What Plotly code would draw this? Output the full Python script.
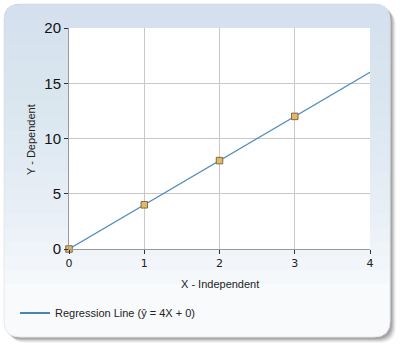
import plotly.graph_objects as go

# Data
x_points = [0, 1, 2, 3]
y_points = [0, 4, 8, 12]
line_x = [0, 4]
line_y = [0, 16]
x_ticks = [0, 1, 2, 3, 4]
y_ticks = [0, 5, 10, 15, 20]
legend_label = "Regression Line (ŷ = 4X + 0)"

W, H = 400, 350
L, R, T, B = 69, 30, 28, 101
PW, PH = W - L - R, H - T - B


def px(x):
    return (x - L) / PW


def py(y):
    return (H - B - y) / PH


def rrect(x0, y0, x1, y1, r, bottom_round=True):
    rx = r / PW
    ry = r / PH
    X0, X1 = px(x0), px(x1)
    Y0, Y1 = py(y0), py(y1)
    p = f"M {X0+rx},{Y0} L {X1-rx},{Y0} Q {X1},{Y0} {X1},{Y0-ry} "
    if bottom_round:
        p += f"L {X1},{Y1+ry} Q {X1},{Y1} {X1-rx},{Y1} L {X0+rx},{Y1} Q {X0},{Y1} {X0},{Y1+ry} "
    else:
        p += f"L {X1},{Y1} L {X0},{Y1} "
    p += f"L {X0},{Y0-ry} Q {X0},{Y0} {X0+rx},{Y0} Z"
    return p


shapes = []
# shadow
for off, op in [(6, 0.06), (5, 0.10), (4, 0.14), (3, 0.18), (2, 0.22)]:
    shapes.append(dict(type="path", xref="paper", yref="paper", layer="below",
                       path=rrect(4 + off, 4 + off, 390 + off, 337 + off, 16),
                       fillcolor=f"rgba(90,90,90,{op})", line=dict(width=0)))
# panel base
shapes.append(dict(type="path", xref="paper", yref="paper", layer="below",
                   path=rrect(4, 4, 390, 337, 16),
                   fillcolor="#f8fafc", line=dict(color="#e4e9f0", width=1)))
# gradient bands
n = 20
for k in range(1, n + 1):
    yb = 4 + k * (280 / n)
    shapes.append(dict(type="path", xref="paper", yref="paper", layer="below",
                       path=rrect(4, 4, 390, yb, 16, bottom_round=False),
                       fillcolor="rgba(200,215,235,0.06)", line=dict(width=0)))
# plot area white
shapes.append(dict(type="rect", xref="paper", yref="paper", layer="below",
                   x0=0, x1=1, y0=0, y1=1, fillcolor="white", line=dict(width=0)))

fig = go.Figure()
fig.add_trace(go.Scatter(x=line_x, y=line_y, mode="lines", name=legend_label,
                         legendgroup="reg", showlegend=False, cliponaxis=False,
                         line=dict(color="#4f8cc0", width=1.2)))
fig.add_trace(go.Scatter(x=[None], y=[None], mode="lines", name=legend_label,
                         legendgroup="reg", showlegend=True,
                         line=dict(color="#4a84b4", width=2.2)))
fig.add_trace(go.Scatter(x=x_points, y=y_points, mode="markers", showlegend=False,
                         cliponaxis=False,
                         marker=dict(symbol="square", size=6.5, color="#e8b860",
                                     line=dict(color="#7a6a50", width=1))))

fig.update_layout(
    width=W, height=H,
    margin=dict(l=L, r=R, t=T, b=B),
    paper_bgcolor="white",
    plot_bgcolor="white",
    shapes=shapes,
    font=dict(family="Liberation Sans, Arial", color="#222"),
    showlegend=True,
    legend=dict(orientation="h", x=px(15), y=py(313), yanchor="middle", xanchor="left",
                bgcolor="rgba(0,0,0,0)", font=dict(size=11, color="#222"),
                itemwidth=30),
    annotations=[
        dict(text="X - Independent", xref="paper", yref="paper", x=px(220), y=py(284),
             showarrow=False, font=dict(size=11, color="#222"), xanchor="center", yanchor="middle"),
        dict(text="Y - Dependent", xref="paper", yref="paper", x=px(31), y=py(140),
             showarrow=False, textangle=-90, font=dict(size=11, color="#222"),
             xanchor="center", yanchor="middle"),
    ],
)
fig.update_xaxes(range=[0, 4], tickvals=x_ticks, showgrid=True, gridcolor="#c8c8c8",
                 gridwidth=1, showline=True, linecolor="#999", linewidth=1,
                 ticks="outside", ticklen=4, tickcolor="#333", zeroline=False,
                 tickfont=dict(size=11, family="DejaVu Sans", color="#222"), mirror=False)
fig.update_yaxes(range=[0, 20], tickvals=y_ticks, showgrid=True, gridcolor="#c8c8c8",
                 gridwidth=1, showline=True, linecolor="#999", linewidth=1,
                 ticks="outside", ticklen=4, tickcolor="#333", zeroline=False,
                 tickfont=dict(size=15, color="#111"))

fig.write_html("out.html")
